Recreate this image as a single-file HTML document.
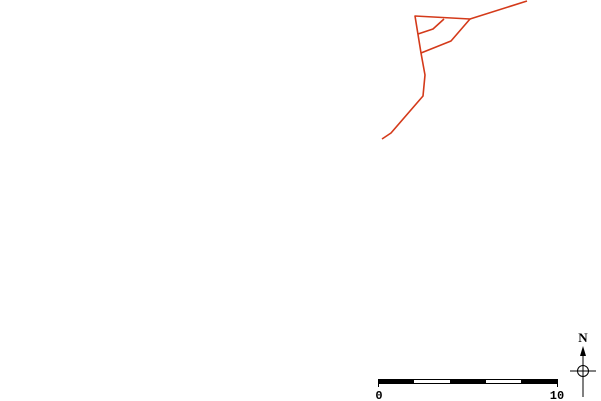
<!DOCTYPE html>
<html><head><style>body{margin:0;background:#fff}svg{display:block}</style></head><body>
<svg width="601" height="401" xmlns="http://www.w3.org/2000/svg">
<g fill="none" stroke="#d43a1a" stroke-width="1.6" stroke-linejoin="round">
<polyline points="527,1 470,19 415,16 421,53 425,75 423,96 391,133 382,139"/>
<polyline points="418,34 433,29 444,19"/>
<polyline points="421,53 451,41 470,19"/>
</g>
<rect x="378.5" y="379.5" width="179" height="4" fill="#fff" stroke="#000" stroke-width="1"/>
<rect x="378" y="379" width="36" height="5" fill="#000"/>
<rect x="450" y="379" width="36" height="5" fill="#000"/>
<rect x="521" y="379" width="36" height="5" fill="#000"/>
<line x1="378.5" y1="379" x2="378.5" y2="387" stroke="#000"/>
<line x1="557.5" y1="379" x2="557.5" y2="387" stroke="#000"/>
<text x="379" y="399" font-family="Liberation Mono, monospace" font-weight="bold" font-size="12" text-anchor="middle">0</text>
<text x="557" y="399" font-family="Liberation Mono, monospace" font-weight="bold" font-size="12" text-anchor="middle">10</text>
<text x="583" y="342" font-family="Liberation Serif, serif" font-weight="bold" font-size="13" text-anchor="middle">N</text>
<polygon points="583,346 580,356 586,356" fill="#000"/>
<line x1="583" y1="355" x2="583" y2="397" stroke="#000"/>
<line x1="570" y1="371" x2="596" y2="371" stroke="#000"/>
<circle cx="583" cy="371" r="5.5" fill="none" stroke="#000"/>
</svg>
</body></html>
